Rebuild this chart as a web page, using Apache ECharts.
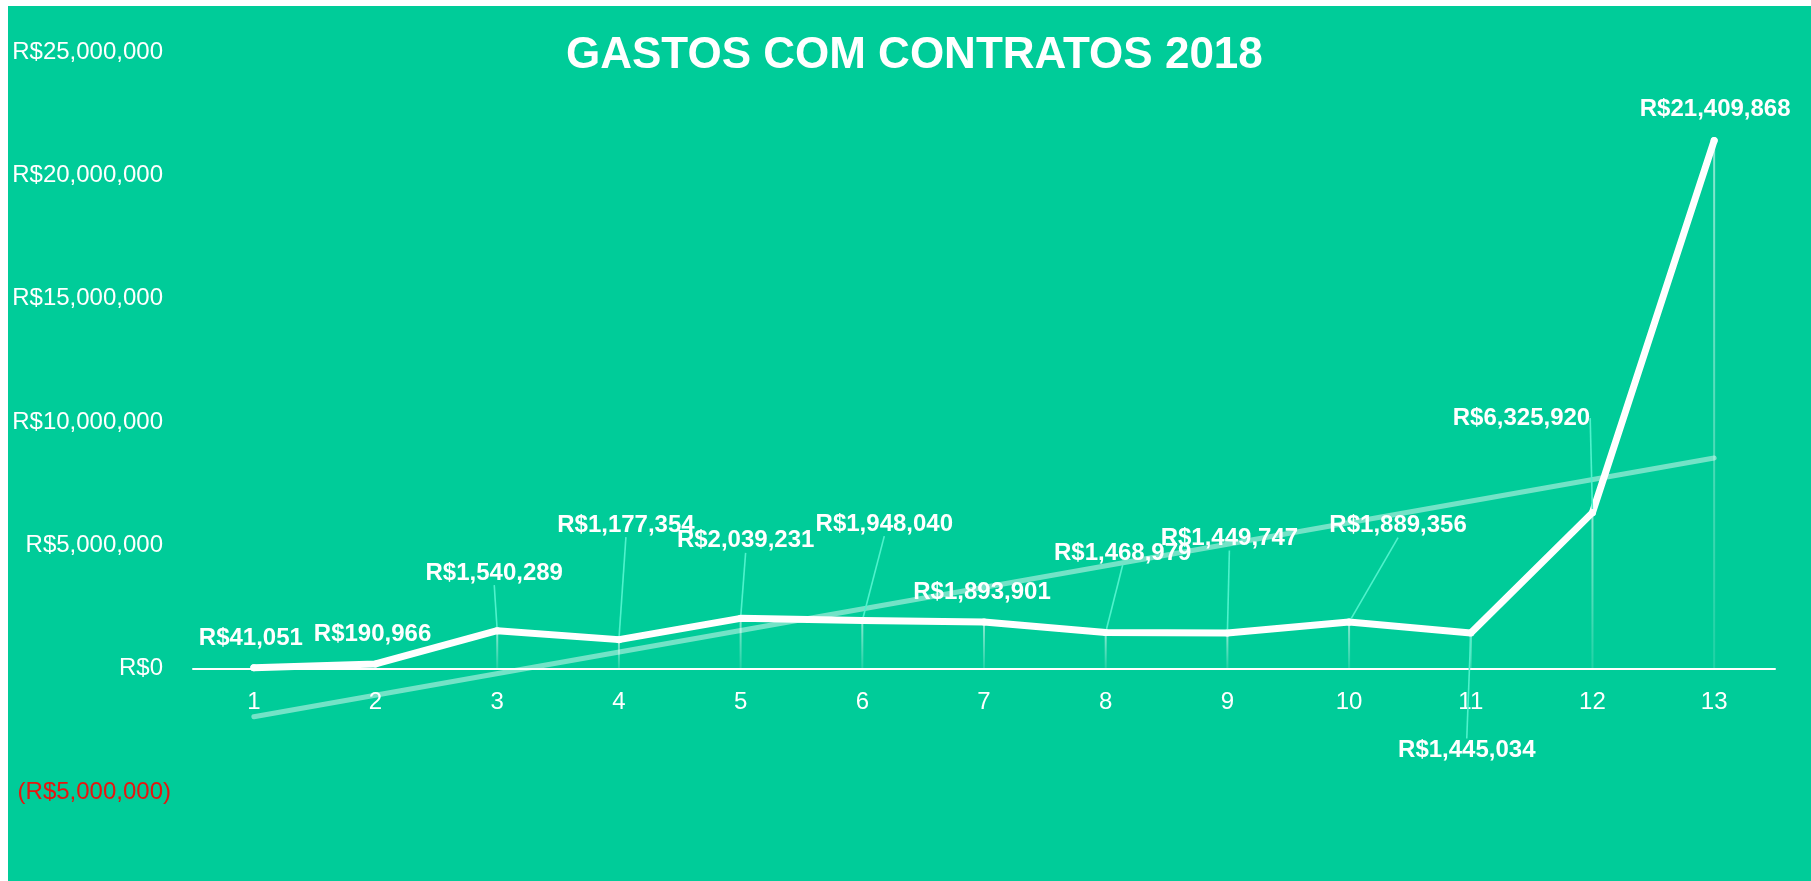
<!DOCTYPE html>
<html>
<head>
<meta charset="utf-8">
<script src="https://cdn.jsdelivr.net/npm/echarts@6/dist/echarts.min.js"></script>
<style>
  html, body { margin: 0; padding: 0; background: #ffffff; width: 1811px; height: 881px; overflow: hidden; }
  #chart { position: absolute; left: 8px; top: 6px; width: 1803px; height: 875px; }
</style>
</head>
<body>
<div id="chart"></div>
<script>
// ---- data ----
var categories = ['1','2','3','4','5','6','7','8','9','10','11','12','13'];
var gastos = [41051, 190966, 1540289, 1177354, 2039231, 1948040, 1893901, 1468979, 1449747, 1889356, 1445034, 6325920, 21409868];
// linear trend line endpoints (at category 1 and 13)
var trendEnds = [-1950000, 8540000];
var yTickValues = [-5000000, 0, 5000000, 10000000, 15000000, 20000000, 25000000];
var yTickLabels = ['(R$5,000,000)', 'R$0', 'R$5,000,000', 'R$10,000,000', 'R$15,000,000', 'R$20,000,000', 'R$25,000,000'];

// ---- label placement (pixel offsets from default 'top' position) ----
var labelOffsets = [[-3,0],[-3,0],[-3,-28],[7,-85],[5,-48],[22,-67],[-2,0],[17,-50],[2,-65],[49,-67],[-4,147],[-71,-65],[1,-2]];
var showLeader = [false,false,true,true,true,true,false,true,true,true,true,true,false];

function fmt(v) {
  var s = String(Math.round(Math.abs(v)));
  var out = '';
  while (s.length > 3) { out = ',' + s.slice(-3) + out; s = s.slice(0, -3); }
  return 'R$' + s + out;
}

var chart = echarts.init(document.getElementById('chart'), null, { renderer: 'canvas' });

var lineData = gastos.map(function (v, i) {
  return { value: v, labelLine: { show: showLeader[i] } };
});

var option = {
  backgroundColor: '#00cc99',
  animation: false,
  title: {
    text: 'GASTOS COM CONTRATOS 2018',
    left: 553,
    top: 23,
    textStyle: { color: '#ffffff', fontSize: 44, fontWeight: 'bold', fontFamily: 'Liberation Sans' }
  },
  grid: { left: 185, right: 36, top: 46, bottom: 89, containLabel: false },
  xAxis: {
    type: 'category',
    data: categories,
    boundaryGap: true,
    offset: -123.33,
    axisLine: { show: true, onZero: false, lineStyle: { color: '#ffffff', width: 2 } },
    axisTick: { show: false },
    axisLabel: { color: '#ffffff', fontSize: 24, fontFamily: 'Liberation Sans', margin: 22 },
    splitLine: { show: false }
  },
  yAxis: {
    type: 'value',
    min: -5000000,
    max: 25000000,
    interval: 5000000,
    axisLine: { show: false },
    axisTick: { show: false },
    splitLine: { show: false },
    axisLabel: {
      margin: 30,
      fontSize: 24,
      fontFamily: 'Liberation Sans',
      color: '#ffffff',
      formatter: function (v) {
        var idx = yTickValues.indexOf(v);
        var t = idx >= 0 ? yTickLabels[idx] : fmt(v);
        return v < 0 ? '{neg|' + t + '}' : t;
      },
      rich: { neg: { color: '#e8140f', fontSize: 24, fontFamily: 'Liberation Sans', padding: [0, -8, 0, 0] } }
    }
  },
  series: [
    {
      name: 'drop',
      type: 'bar',
      data: gastos,
      barWidth: 2,
      silent: true,
      z: 1,
      itemStyle: {
        color: new echarts.graphic.LinearGradient(0, 0, 0, 1, [
          { offset: 0, color: 'rgba(255,255,255,0.55)' },
          { offset: 1, color: 'rgba(255,255,255,0.12)' }
        ])
      }
    },
    {
      name: 'trend',
      type: 'line',
      data: [[0, trendEnds[0]], [12, trendEnds[1]]],
      showSymbol: false,
      silent: true,
      z: 2,
      lineStyle: { color: 'rgba(255,255,255,0.45)', width: 5, cap: 'round' }
    },
    {
      name: 'gastos',
      type: 'line',
      data: lineData,
      z: 3,
      symbol: 'circle',
      symbolSize: 7,
      showSymbol: true,
      itemStyle: { color: '#ffffff' },
      lineStyle: { color: '#ffffff', width: 7, cap: 'round', join: 'round' },
      label: {
        show: true,
        position: 'top',
        distance: 14,
        color: '#ffffff',
        fontSize: 24,
        fontWeight: 'bold',
        fontFamily: 'Liberation Sans',
        formatter: function (p) { return fmt(p.value); }
      },
      labelLine: { show: true, lineStyle: { color: '#4ff2cc', width: 1.6 } },
      labelLayout: function (p) {
        var o = labelOffsets[p.dataIndex] || [0, 0];
        return { dx: o[0], dy: o[1] };
      }
    }
  ]
};

chart.setOption(option);
</script>
</body>
</html>
